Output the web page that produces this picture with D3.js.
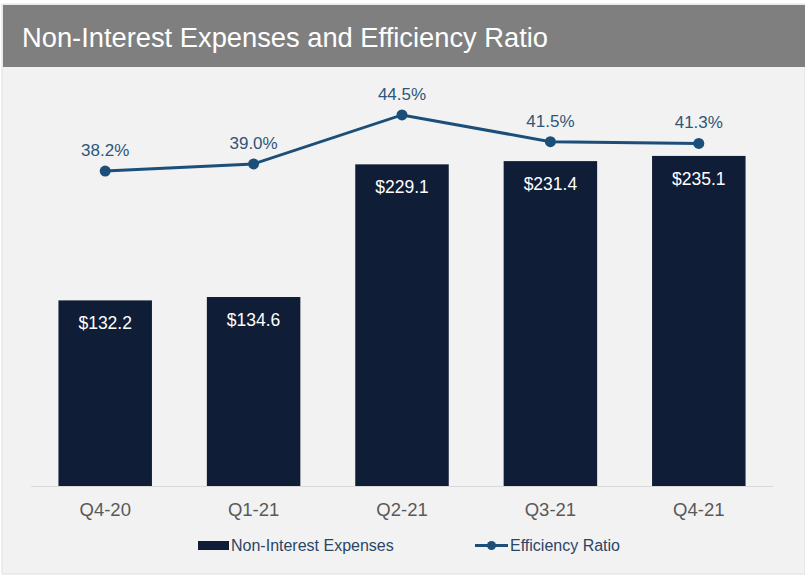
<!DOCTYPE html>
<html><head><meta charset="utf-8">
<script src="https://cdn.jsdelivr.net/npm/d3@7"></script>
<style>body{margin:0;background:#fff}svg{display:block}text{font-family:"Liberation Sans",Arial,sans-serif}</style>
</head><body>
<svg id="c" width="805" height="576"></svg>
<script>
const categories = ["Q4-20","Q1-21","Q2-21","Q3-21","Q4-21"];
const expenses = [132.2,134.6,229.1,231.4,235.1];
const expenseLabels = ["$132.2","$134.6","$229.1","$231.4","$235.1"];
const ratio = [38.2,39.0,44.5,41.5,41.3];
const ratioLabels = ["38.2%","39.0%","44.5%","41.5%","41.3%"];
const title = "Non-Interest Expenses and Efficiency Ratio";
const legendNames = ["Non-Interest Expenses","Efficiency Ratio"];

const svg = d3.select("#c");
const barColor = "#0f1d36", lineColor = "#1b4f79", labelColor = "#2f5679";

svg.append("rect").attr("x",2).attr("y",4).attr("width",803).attr("height",570).attr("fill","#f2f2f2").attr("stroke","#e0e0e0");
svg.append("rect").attr("x",3).attr("y",5).attr("width",802).attr("height",62).attr("fill","#7f7f7f");
svg.append("text").attr("x",22).attr("y",47).attr("fill","#fff").attr("font-size",27.3).text(title);

const x = d3.scaleBand().domain(categories).range([31,773]).paddingInner(0.37).paddingOuter(0.185);
const y = d3.scaleLinear().domain([0,250]).range([486,135]);
const y2 = d3.scaleLinear().domain([30,50]).range([244,66]);

const xAxis = svg.append("g").attr("transform","translate(0,486)").call(d3.axisBottom(x).tickSize(0).tickPadding(17));
xAxis.select(".domain").attr("stroke","#d9d9d9").attr("d","M31,0.5H773");
xAxis.selectAll("text").attr("fill","#595959").attr("font-size",18.5).attr("font-family","Liberation Sans, Arial, sans-serif");

svg.selectAll("rect.bar").data(expenses).join("rect").attr("class","bar")
  .attr("x",(d,i)=>x(categories[i])).attr("width",x.bandwidth())
  .attr("y",d=>y(d)).attr("height",d=>y(0)-y(d)).attr("fill",barColor);
svg.selectAll("text.bl").data(expenses).join("text").attr("class","bl")
  .attr("x",(d,i)=>x(categories[i])+x.bandwidth()/2).attr("y",d=>y(d)+29)
  .attr("text-anchor","middle").attr("fill","#fff").attr("font-size",17.5).text((d,i)=>expenseLabels[i]);

const line = d3.line().x((d,i)=>x(categories[i])+x.bandwidth()/2).y(d=>y2(d));
svg.append("path").datum(ratio).attr("d",line).attr("fill","none").attr("stroke",lineColor).attr("stroke-width",3);
svg.selectAll("circle.pt").data(ratio).join("circle").attr("class","pt")
  .attr("cx",(d,i)=>x(categories[i])+x.bandwidth()/2).attr("cy",d=>y2(d)).attr("r",5.5).attr("fill",lineColor);
svg.selectAll("text.rl").data(ratio).join("text").attr("class","rl")
  .attr("x",(d,i)=>x(categories[i])+x.bandwidth()/2).attr("y",d=>y2(d)-15)
  .attr("text-anchor","middle").attr("fill",labelColor).attr("font-size",17).text((d,i)=>ratioLabels[i]);

const lg = svg.append("g");
lg.append("rect").attr("x",198).attr("y",541).attr("width",31).attr("height",9).attr("fill",barColor);
lg.append("text").attr("x",231).attr("y",551).attr("fill","#2a4666").attr("font-size",16).text(legendNames[0]);
lg.append("line").attr("x1",475).attr("x2",508).attr("y1",545.5).attr("y2",545.5).attr("stroke",lineColor).attr("stroke-width",3);
lg.append("circle").attr("cx",491.5).attr("cy",545.5).attr("r",4.5).attr("fill",lineColor);
lg.append("text").attr("x",510).attr("y",551).attr("fill","#2a4666").attr("font-size",16).text(legendNames[1]);
</script>
</body></html>
